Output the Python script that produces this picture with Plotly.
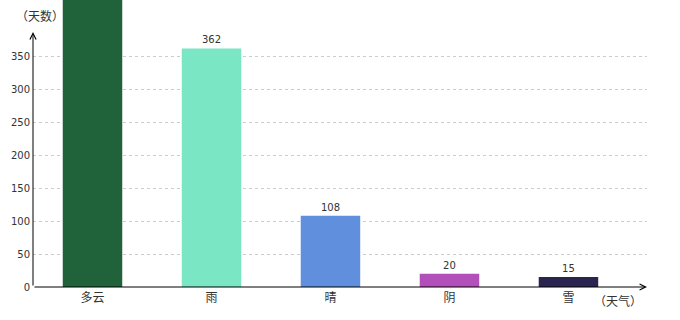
import plotly.graph_objects as go

categories = ["多云", "雨", "晴", "阴", "雪"]
days = [520, 362, 108, 20, 15]
bar_colors = ["#20623a", "#7ae6c3", "#6090dd", "#b24fb8", "#2a2550"]
label_positions = ["none", "outside", "outside", "outside", "outside"]
y_ticks = [0, 50, 100, 150, 200, 250, 300, 350]
y_title = "（天数）"
x_title = "（天气）"

fig = go.Figure()
fig.add_trace(go.Bar(
    x=categories,
    y=days,
    marker=dict(color=bar_colors, line=dict(width=0)),
    text=[str(v) for v in days],
    textposition=label_positions,
    textfont=dict(family="DejaVu Sans", size=10, color="#333333"),
    cliponaxis=True,
    hoverinfo="skip",
))

fig.update_layout(
    width=680, height=320,
    margin=dict(l=33, r=33, t=0, b=33),
    paper_bgcolor="white", plot_bgcolor="white",
    bargap=0.5,
    showlegend=False,
    xaxis=dict(
        range=[-0.5, 4.66],
        showgrid=False, showline=False, zeroline=False,
        ticks="",
        tickfont=dict(family="Noto Sans CJK SC", size=12, color="#333333"),
        ticklabelstandoff=2,
        fixedrange=True,
    ),
    yaxis=dict(
        range=[0, 435.5],
        tickvals=y_ticks,
        showgrid=True, gridcolor="#cccccc", griddash="3px,3px", gridwidth=1,
        showline=False, zeroline=False,
        ticks="",
        tickfont=dict(family="DejaVu Sans", size=10, color="#333333"),
        ticklabelstandoff=2,
        fixedrange=True,
    ),
)

# axis lines with arrow heads
fig.add_annotation(
    xref="paper", yref="paper", x=0, y=(287 - 32) / 287,
    ax=0, ay=255, axref="pixel", ayref="pixel",
    text="", showarrow=True, arrowhead=5, arrowsize=1.2, arrowwidth=1,
    arrowcolor="#000000", standoff=0, startstandoff=0,
)
fig.add_annotation(
    xref="paper", yref="paper", x=1.0, y=0,
    ax=-614, ay=0, axref="pixel", ayref="pixel",
    text="", showarrow=True, arrowhead=5, arrowsize=1.2, arrowwidth=1,
    arrowcolor="#000000", standoff=0, startstandoff=0,
)

ZW = "\u200b"
fig.add_annotation(
    xref="paper", yref="paper", x=(39.5 - 33) / 614, y=(287 - 15) / 287,
    text=ZW + y_title + ZW, showarrow=False, xanchor="center", yanchor="middle",
    font=dict(family="Noto Sans CJK TC", size=12, color="#333333"),
)
fig.add_annotation(
    xref="paper", yref="paper", x=(618 - 33) / 614, y=(287 - 300) / 287,
    text=ZW + x_title + ZW, showarrow=False, xanchor="center", yanchor="middle",
    font=dict(family="Noto Sans CJK TC", size=12, color="#333333"),
)

fig.write_html("out.html", config={"displayModeBar": False})
